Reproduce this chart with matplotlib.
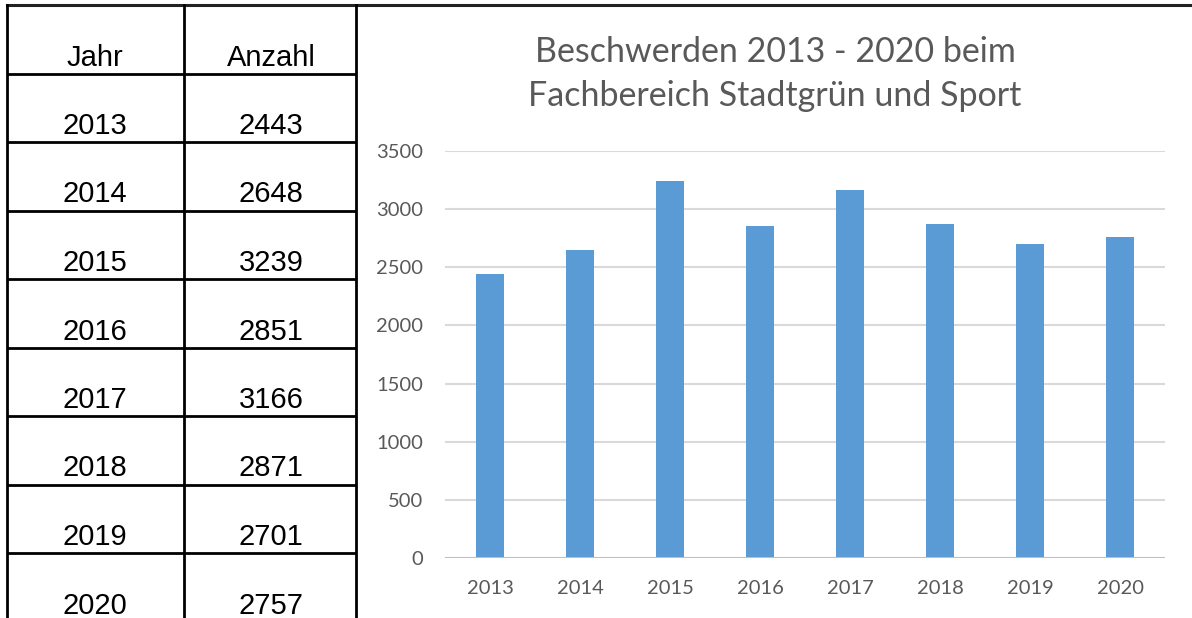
import matplotlib.pyplot as plt

jahre = ['2013', '2014', '2015', '2016', '2017', '2018', '2019', '2020']
anzahl = [2443, 2648, 3239, 2851, 3166, 2871, 2701, 2757]
kopf = ['Jahr', 'Anzahl']
titel = 'Beschwerden 2013 - 2020 beim\nFachbereich Stadtgrün und Sport'

W, H = 1192, 618
fig = plt.figure(figsize=(W / 100, H / 100), dpi=100)

# table drawn in pixel coordinates
tab = fig.add_axes([0, 0, 1, 1])
tab.set_xlim(0, W)
tab.set_ylim(H, 0)
tab.axis('off')

row_h = 68.5
top = 5
n_rows = len(jahre) + 1
lines_y = [top + row_h * k for k in range(n_rows + 1)]
for y in lines_y:
    tab.plot([7, 356], [y, y], color='black', lw=2, solid_capstyle='butt')
tab.plot([7, W], [top, top], color='#222222', lw=2.2)
for x in [7, 184, 356]:
    tab.plot([x, x], [top, H + 10], color='black', lw=2)

col_x = [95, 271]
tfont = dict(family='Liberation Sans', fontsize=21, color='black',
             ha='center', va='baseline')
for c, txt in enumerate(kopf):
    tab.text(col_x[c], lines_y[1] - 8, txt, **tfont)
for i, (j, a) in enumerate(zip(jahre, anzahl)):
    yb = lines_y[i + 2] - 8
    tab.text(col_x[0], yb, j, **tfont)
    tab.text(col_x[1], yb, str(a), **tfont)

# chart
ax = fig.add_axes([445 / W, 1 - 558 / H, 720 / W, 407 / H])
x = range(len(jahre))
ax.bar(x, anzahl, width=0.31, color='#5B9BD5', zorder=3)
ax.set_xlim(-0.5, len(jahre) - 0.5)
ax.set_ylim(0, 3500)
ax.set_yticks(range(0, 3501, 500))
ax.set_xticks(list(x))
ax.set_xticklabels(jahre)
for s in ax.spines.values():
    s.set_visible(False)
ax.grid(axis='y', color='#D9D9D9', lw=1.5, zorder=0)
ax.axhline(0, color='#BFBFBF', lw=2.2, zorder=4)
ax.tick_params(length=0, labelsize=14.5, labelcolor='#595959')
ax.tick_params(axis='y', pad=16)
ax.tick_params(axis='x', pad=16)
for lab in ax.get_xticklabels() + ax.get_yticklabels():
    lab.set_family('Lato')

fig.text(775 / W, 1 - 74 / H, titel, ha='center', va='center',
         fontsize=24.5, color='#595959', family='Lato', linespacing=1.5)

fig.savefig('out.png', dpi=100)
